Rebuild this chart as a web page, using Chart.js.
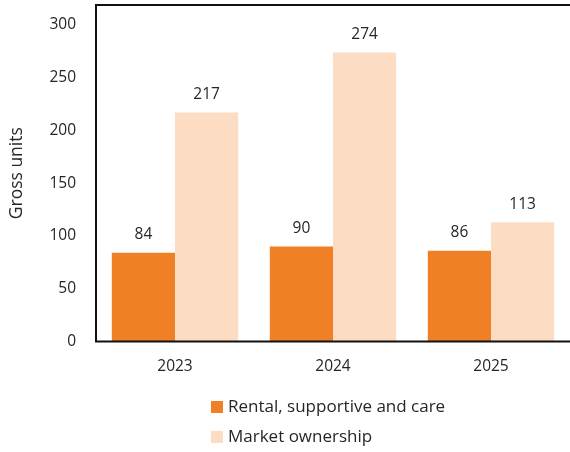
<!DOCTYPE html>
<html>
<head>
<meta charset="utf-8">
<script src="https://cdn.jsdelivr.net/npm/chart.js@4"></script>
<style>
  html, body { margin: 0; padding: 0; background: #fff; }
  #wrap { width: 570px; height: 452px; }
</style>
</head>
<body>
<div id="wrap"><canvas id="chart" width="570" height="452"></canvas></div>
<script>
const years = ["2023", "2024", "2025"];
const rentalUnits = [84, 90, 86];
const ownershipUnits = [217, 274, 113];
const yTicks = [0, 50, 100, 150, 200, 250, 300];

const FONT = "'Open Sans', sans-serif";
const TEXT = "#262626";

// value labels above each bar
const barLabels = {
  id: "barLabels",
  afterDatasetsDraw(chart) {
    const ctx = chart.ctx;
    ctx.save();
    ctx.font = "15.5px " + FONT;
    ctx.fillStyle = TEXT;
    ctx.textAlign = "center";
    ctx.textBaseline = "bottom";
    chart.data.datasets.forEach((ds, i) => {
      chart.getDatasetMeta(i).data.forEach((bar, j) => {
        ctx.fillText(ds.data[j], bar.x, bar.y - 10);
      });
    });
    ctx.restore();
  }
};

// plot frame: left, top and bottom edges
const frame = {
  id: "frame",
  afterDraw(chart) {
    const { left, top, right, bottom } = chart.chartArea;
    const ctx = chart.ctx;
    ctx.save();
    ctx.strokeStyle = "#111";
    ctx.lineWidth = 2;
    ctx.beginPath();
    ctx.moveTo(right + 2, top);
    ctx.lineTo(left, top);
    ctx.lineTo(left, bottom);
    ctx.lineTo(right + 2, bottom);
    ctx.stroke();
    ctx.restore();
  }
};

// stacked legend under the axis
const stackedLegend = {
  id: "stackedLegend",
  afterDraw(chart) {
    const ctx = chart.ctx;
    ctx.save();
    ctx.font = "17px " + FONT;
    ctx.textBaseline = "middle";
    chart.data.datasets.forEach((ds, i) => {
      const y = 407 + i * 30;
      ctx.fillStyle = ds.backgroundColor;
      ctx.fillRect(211, y - 6, 12, 12);
      ctx.fillStyle = TEXT;
      ctx.fillText(ds.label, 228, y);
    });
    ctx.restore();
  }
};

new Chart(document.getElementById("chart"), {
  type: "bar",
  data: {
    labels: years,
    datasets: [
      {
        label: "Rental, supportive and care",
        data: rentalUnits,
        backgroundColor: "#F08025",
        categoryPercentage: 0.8,
        barPercentage: 1.0
      },
      {
        label: "Market ownership",
        data: ownershipUnits,
        backgroundColor: "#FCDCC3",
        categoryPercentage: 0.8,
        barPercentage: 1.0
      }
    ]
  },
  options: {
    responsive: false,
    animation: false,
    layout: { padding: { top: 5, right: 0, bottom: 60, left: 0 } },
    plugins: {
      legend: { display: false },
      tooltip: { enabled: false }
    },
    scales: {
      x: {
        grid: { display: false, drawTicks: false },
        border: { display: false },
        ticks: { color: TEXT, font: { family: FONT, size: 15.5 }, padding: 16 }
      },
      y: {
        min: 0,
        max: 319,
        grid: { display: false, drawTicks: false },
        border: { display: false },
        afterBuildTicks(scale) {
          scale.ticks = yTicks.map(v => ({ value: v }));
        },
        afterFit(scale) {
          scale.width = 96;
          scale.paddingTop = 0;
        },
        ticks: { color: TEXT, font: { family: FONT, size: 15.5 }, padding: 20 },
        title: {
          display: true,
          text: "Gross units",
          color: TEXT,
          font: { family: FONT, size: 17.5 },
          padding: { top: 7, bottom: 0 }
        }
      }
    }
  },
  plugins: [barLabels, frame, stackedLegend]
});
</script>
</body>
</html>
